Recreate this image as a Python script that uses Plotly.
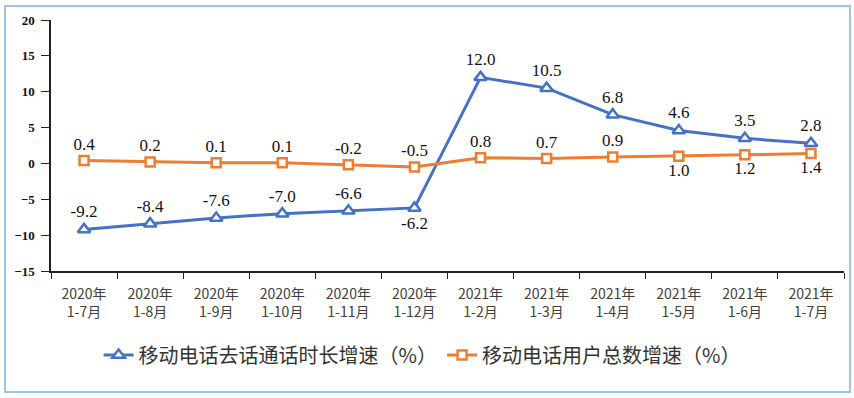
import plotly.graph_objects as go

categories = ["2020年<br>1-7月", "2020年<br>1-8月", "2020年<br>1-9月", "2020年<br>1-10月",
              "2020年<br>1-11月", "2020年<br>1-12月", "2021年<br>1-2月", "2021年<br>1-3月",
              "2021年<br>1-4月", "2021年<br>1-5月", "2021年<br>1-6月", "2021年<br>1-7月"]
call_growth = [-9.2, -8.4, -7.6, -7.0, -6.6, -6.2, 12.0, 10.5, 6.8, 4.6, 3.5, 2.8]
user_growth = [0.4, 0.2, 0.1, 0.1, -0.2, -0.5, 0.8, 0.7, 0.9, 1.0, 1.2, 1.4]
call_name = "移动电话去话通话时长增速（%）"
user_name = "移动电话用户总数增速（%）"
y_ticks = [-15, -10, -5, 0, 5, 10, 15, 20]

blue = "#4472C4"
orange = "#ED7D31"
serif = "Liberation Serif, Times New Roman, DejaVu Serif, serif"
cjk = "Noto Sans CJK SC, sans-serif"

call_pos = ["top center"] * len(call_growth)
call_pos[5] = "bottom center"
user_pos = ["top center"] * 9 + ["bottom center"] * 3

fig = go.Figure()
fig.add_trace(go.Scatter(
    x=categories, y=call_growth, name=call_name, mode="lines+markers+text",
    line=dict(color=blue, width=3),
    marker=dict(symbol="triangle-up", size=11, color="white", line=dict(color=blue, width=2.5)),
    text=[f"{v:.1f}" for v in call_growth], textposition=call_pos,
    textfont=dict(family=serif, size=17, color="#111111"),
    cliponaxis=False,
))
fig.add_trace(go.Scatter(
    x=categories, y=user_growth, name=user_name, mode="lines+markers+text",
    line=dict(color=orange, width=3),
    marker=dict(symbol="square", size=9, color="white", line=dict(color=orange, width=2.5)),
    text=[f"{v:.1f}" for v in user_growth], textposition=user_pos,
    textfont=dict(family=serif, size=17, color="#111111"),
    cliponaxis=False,
))

fig.update_layout(
    width=854, height=398,
    margin=dict(l=51, r=10, t=20, b=127),
    paper_bgcolor="white", plot_bgcolor="white",
    showlegend=True,
    legend=dict(orientation="h", x=0.468, xanchor="center", y=-0.335, yanchor="middle",
                font=dict(family=cjk, size=20, color="#333333"),
                itemwidth=30, traceorder="normal"),
    shapes=[dict(type="rect", xref="paper", yref="paper",
                 x0=-0.058, x1=1.0076, y0=-0.482, y1=1.056,
                 line=dict(color="#9DC3E6", width=2), fillcolor="rgba(0,0,0,0)", layer="below")],
)
fig.update_xaxes(
    type="category", showgrid=False, showline=True, linecolor="#222222", linewidth=1.5,
    ticks="outside", ticklen=6, tickcolor="#222222", tickson="boundaries",
    ticklabelstandoff=9,
    tickfont=dict(family=cjk, size=14, color="#404040"),
    range=[-0.5, 11.5],
)
fig.update_yaxes(
    range=[-15, 20], tickvals=y_ticks, showgrid=False, zeroline=False,
    showline=True, linecolor="#222222", linewidth=1.5,
    ticks="outside", ticklen=8, tickcolor="#222222",
    ticklabelstandoff=4,
    tickfont=dict(family=serif, size=13, color="#111111", weight="bold"),
)

fig.write_html("out.html", config={"displayModeBar": False},
               post_script="document.body.style.margin='0';")
